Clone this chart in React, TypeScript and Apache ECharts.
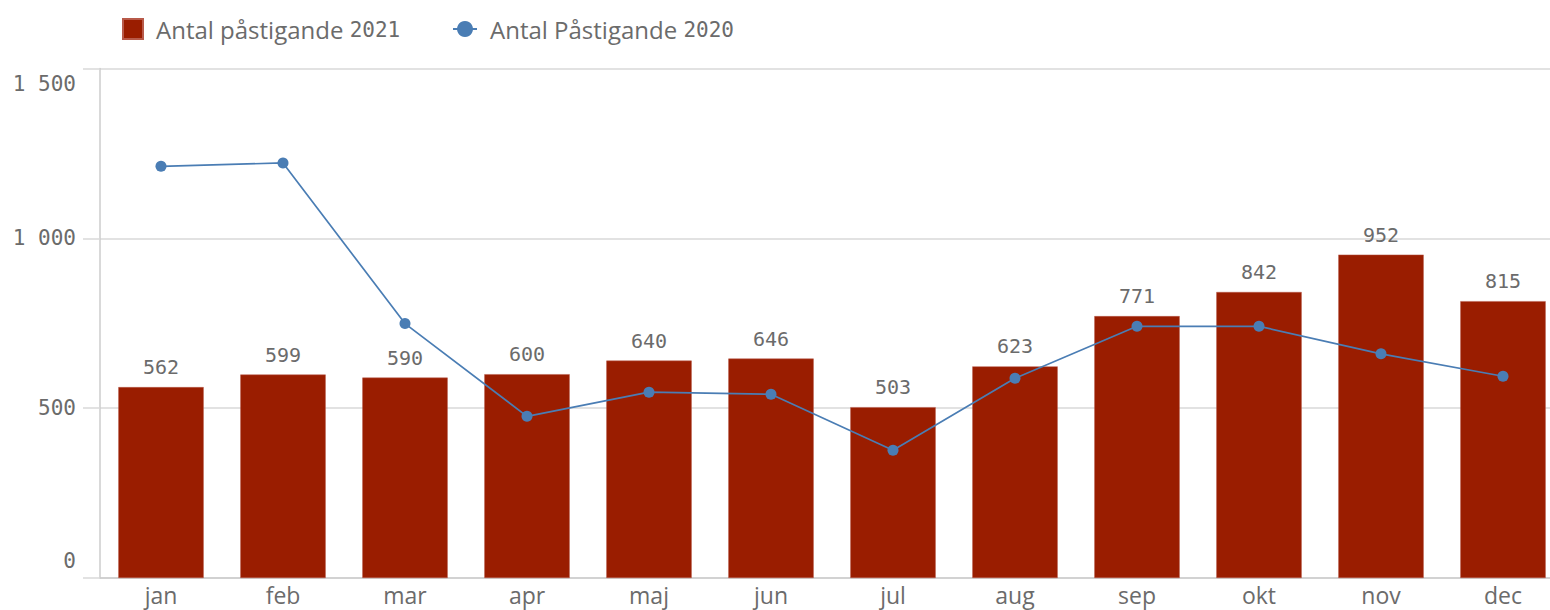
import React, { useEffect, useRef } from "react";
import * as echarts from "echarts";

const months = ["jan", "feb", "mar", "apr", "maj", "jun", "jul", "aug", "sep", "okt", "nov", "dec"];
const passengers2021 = [562, 599, 590, 600, 640, 646, 503, 623, 771, 842, 952, 815];
const passengers2020 = [1212, 1222, 749, 476, 547, 541, 376, 588, 741, 741, 660, 594];
const yTicks = [0, 500, 1000, 1500];
const seriesNames = ["Antal påstigande 2021", "Antal Påstigande 2020"];

const MONO = "'DejaVu Sans Mono', 'Liberation Mono', monospace";
const SANS = "'Open Sans', 'Noto Sans', sans-serif";
const TEXT = "#6b6b6b";

function legendFormatter(name: string) {
  const m = name.match(/^(.*?)(\d+)$/);
  if (!m) return name;
  return `{t|${m[1]}}{d|${m[2]}}`;
}

const legendRich = {
  t: { fontFamily: SANS, fontSize: 24, color: TEXT, padding: [0, 0, 0, 8], lineHeight: 30, verticalAlign: "middle" },
  d: { fontFamily: MONO, fontSize: 21, color: TEXT, lineHeight: 30, verticalAlign: "middle", padding: [2, 0, 0, 0] },
};

const yLabelBase = { fontFamily: MONO, fontSize: 21, color: TEXT };

export default function App() {
  const ref = useRef<HTMLDivElement>(null);
  useEffect(() => {
    document.body.style.margin = "0";
    if (!ref.current) return;
    const chart = echarts.init(ref.current, undefined, { renderer: "svg" });
    const yMax = yTicks[yTicks.length - 1];
    chart.setOption({
      animation: false,
      backgroundColor: "#ffffff",
      legend: [
        {
          data: [seriesNames[0]],
          left: 117,
          top: 12,
          icon: "rect",
          itemWidth: 20,
          itemHeight: 20,
          formatter: legendFormatter,
          textStyle: { rich: legendRich },
        },
        {
          data: [seriesNames[1]],
          left: 447,
          top: 12,
          itemWidth: 24,
          itemHeight: 20,
          formatter: legendFormatter,
          textStyle: { rich: legendRich },
        },
      ],
      grid: { left: 100, right: 1, top: 68.5, bottom: 32, containLabel: false },
      xAxis: {
        type: "category",
        data: months,
        axisLine: { show: true, lineStyle: { color: "#cccccc", width: 1.5 } },
        axisTick: { show: false },
        axisLabel: { color: TEXT, fontFamily: SANS, fontSize: 23, margin: 5 },
      },
      yAxis: {
        type: "value",
        min: yTicks[0],
        max: yMax,
        interval: 500,
        axisLine: { show: true, lineStyle: { color: "#cccccc", width: 1.5 } },
        axisTick: {
          show: true,
          length: 17,
          lineStyle: { color: "#d9d9d9", width: 1.5 },
        },
        splitLine: { show: true, lineStyle: { color: "#d9d9d9", width: 1.5 } },
        axisLabel: {
          margin: 24,
          formatter: (v: number) => {
            const s = String(v).replace(/\B(?=(\d{3})+(?!\d))/g, " ");
            if (v === yMax) return `{top|${s}}`;
            if (v === yTicks[0]) return `{bot|${s}}`;
            return `{mid|${s}}`;
          },
          rich: {
            top: { ...yLabelBase, padding: [30, 0, 0, 0] },
            bot: { ...yLabelBase, padding: [0, 0, 35, 0] },
            mid: { ...yLabelBase },
          },
        },
      },
      series: [
        {
          name: seriesNames[0],
          type: "bar",
          data: passengers2021,
          barCategoryGap: "30%",
          itemStyle: { color: "#9a1d00", borderColor: "#b85a4a", borderWidth: 0.5 },
          label: {
            show: true,
            position: "top",
            distance: 10,
            color: TEXT,
            fontFamily: MONO,
            fontSize: 20,
          },
        },
        {
          name: seriesNames[1],
          type: "line",
          data: passengers2020,
          symbol: "circle",
          symbolSize: 11,
          lineStyle: { color: "#4a7db4", width: 1.7 },
          itemStyle: { color: "#4a7db4" },
        },
      ],
    });
    return () => chart.dispose();
  }, []);
  return (
    <div style={{ position: "absolute", left: 0, top: 0, width: 1550, height: 610, overflow: "hidden" }}>
      <div ref={ref} style={{ width: 1565, height: 610 }} />
    </div>
  );
}
